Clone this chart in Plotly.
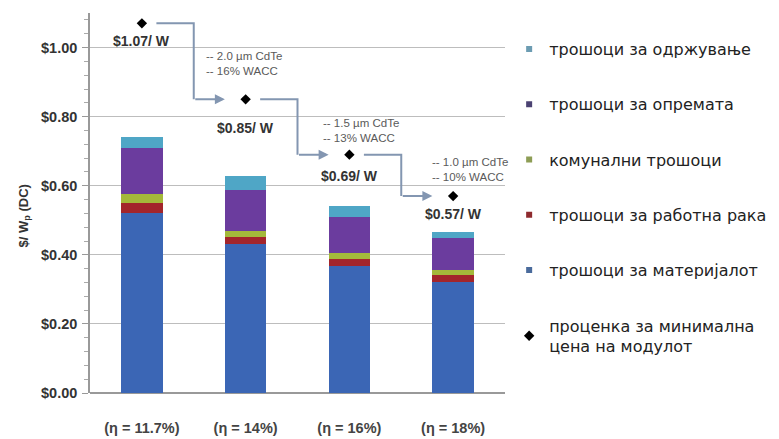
import plotly.graph_objects as go

categories = ["(η = 11.7%)", "(η = 14%)", "(η = 16%)", "(η = 18%)"]
materials = [0.52, 0.43, 0.368, 0.32]
labour = [0.03, 0.022, 0.02, 0.022]
utilities = [0.025, 0.018, 0.018, 0.014]
equipment = [0.135, 0.118, 0.104, 0.092]
maintenance = [0.032, 0.04, 0.03, 0.018]
module_price = [1.07, 0.85, 0.69, 0.57]
price_labels = ["$1.07/ W", "$0.85/ W", "$0.69/ W", "$0.57/ W"]
notes = ["-- 2.0 µm CdTe<br>-- 16% WACC", "-- 1.5 µm CdTe<br>-- 13% WACC", "-- 1.0 µm CdTe<br>-- 10% WACC"]

names = {
    "maintenance": "трошоци за одржување",
    "equipment": "трошоци за опремата",
    "utilities": "комунални трошоци",
    "labour": "трошоци за работна рака",
    "materials": "трошоци за материјалот",
    "price": "проценка за минимална<br>цена на модулот",
}
colors = {
    "materials": "#3b66b5",
    "labour": "#a3252b",
    "utilities": "#a4b93a",
    "equipment": "#6b3c9e",
    "maintenance": "#4fa6c6",
}
legend_colors = {
    "materials": "#4a6b9c",
    "labour": "#8e2a2e",
    "utilities": "#8d9d55",
    "equipment": "#4b4272",
    "maintenance": "#6c9cb2",
}

x = list(range(len(categories)))
series = [("materials", materials), ("labour", labour), ("utilities", utilities),
          ("equipment", equipment), ("maintenance", maintenance)]

fig = go.Figure()
for key, vals in series:
    fig.add_trace(go.Bar(x=x, y=vals, name=names[key], marker=dict(color=colors[key], line=dict(width=0)),
                         width=0.4, showlegend=False))

# legend proxies
ranks = {"maintenance": 1, "equipment": 2, "utilities": 3, "labour": 4, "materials": 5}
for key, vals in series:
    fig.add_trace(go.Scatter(x=[None], y=[None], mode="markers", name=names[key],
                             marker=dict(symbol="square", size=6, color=legend_colors[key]),
                             legendgroup=key, legendrank=ranks[key]))

# arrows connecting price estimates
lx, ly = [], []
arrow_col = "#8396b1"
for i in range(len(module_price) - 1):
    x0 = x[i] + 0.14
    xt = x[i] + 0.5
    xe = x[i + 1] - 0.2
    lx += [x0, xt, xt, None]
    ly += [module_price[i], module_price[i], module_price[i + 1], None]
    fig.add_annotation(x=xe, y=module_price[i + 1], ax=xt, ay=module_price[i + 1], axref="x", ayref="y",
                       xref="x", yref="y", showarrow=True, arrowhead=2, arrowsize=1, arrowwidth=2,
                       arrowcolor=arrow_col, text="")
fig.add_trace(go.Scatter(x=lx, y=ly, mode="lines", line=dict(color=arrow_col, width=2),
                         showlegend=False, hoverinfo="skip"))

fig.add_trace(go.Scatter(x=x, y=module_price, mode="markers", name=names["price"],
                         marker=dict(symbol="diamond", size=8, color="#000000"),
                         legendgroup="price", legendrank=6))

label_shift = [-18, -29, -21, -18]
for i, (v, t) in enumerate(zip(module_price, price_labels)):
    fig.add_annotation(x=x[i], y=v, text="<b>" + t + "</b>", showarrow=False, yshift=label_shift[i],
                       font=dict(family="Liberation Sans, Arial", size=14, color="#333333"))

note_pos = [(0.6, 0.955), (1.73, 0.76), (2.78, 0.647)]
for (nx, ny), t in zip(note_pos, notes):
    fig.add_annotation(x=nx, y=ny, text=t, showarrow=False, xanchor="left", align="left",
                       font=dict(family="Liberation Sans, Arial", size=11.5, color="#5a5a5a"))

fig.add_annotation(xref="paper", yref="paper", x=-0.183, y=0.466, text="<b>$/ W<sub>p</sub> (DC)</b>",
                   textangle=-90, showarrow=False, font=dict(family="Liberation Sans, Arial", size=13, color="#333333"))

fig.update_layout(
    width=779, height=439,
    margin=dict(l=90, r=274, t=13, b=46, autoexpand=False),
    barmode="stack",
    plot_bgcolor="white", paper_bgcolor="white",
    showlegend=True,
    legend=dict(x=1.01, y=0.95, xanchor="left", yanchor="top", traceorder="grouped",
                tracegroupgap=31.5, font=dict(family="DejaVu Sans", size=16, color="#222222"),
                bgcolor="rgba(0,0,0,0)"),
    xaxis=dict(range=[-0.5, 3.5], tickvals=x, ticktext=["<b>" + c + "</b>" for c in categories],
               showgrid=False, zeroline=False, showline=False, ticks="", automargin=False,
               tickfont=dict(family="Liberation Sans, Arial", size=14.5, color="#444444"),
               ticklabelstandoff=24),
    yaxis=dict(range=[0, 1.10], tick0=0, dtick=0.2, tickprefix="$", tickformat=".2f",
               showgrid=True, gridcolor="#bdbdbd", gridwidth=1, automargin=False,
               zeroline=True, zerolinecolor="#999999", zerolinewidth=1.5,
               showline=True, linecolor="#999999", linewidth=1.5,
               ticks="outside", ticklen=6, tickcolor="#999999",
               minor=dict(dtick=0.04, tick0=0, ticks="outside", ticklen=4, tickcolor="#aaaaaa", showgrid=False),
               tickfont=dict(family="Liberation Sans, Arial", size=14.5, color="#333333"),
               ticklabelstandoff=2),
)
fig.update_yaxes(tickfont_weight="bold")

fig.write_html("out.html")
